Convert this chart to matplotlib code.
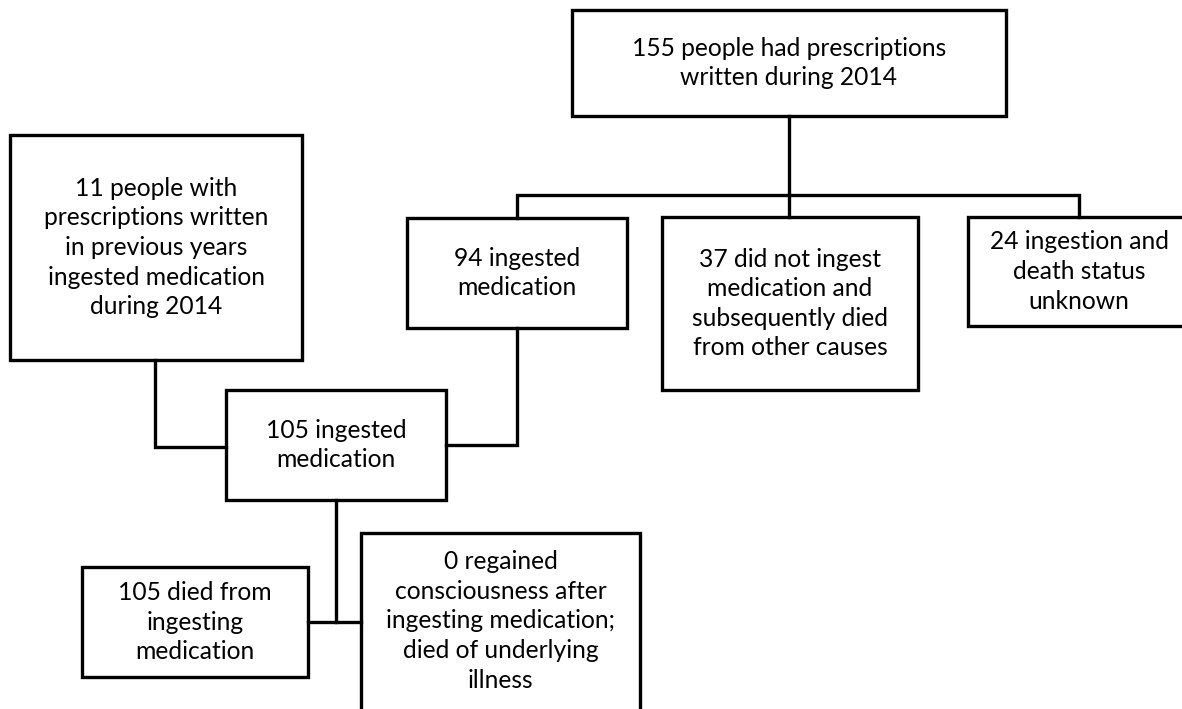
import matplotlib.pyplot as plt
from matplotlib.patches import Rectangle

# box texts
labels = [
    "155 people had prescriptions\nwritten during 2014",
    "11 people with\nprescriptions written\nin previous years\ningested medication\nduring 2014",
    "94 ingested\nmedication",
    "37 did not ingest\nmedication and\nsubsequently died\nfrom other causes",
    "24 ingestion and\ndeath status\nunknown",
    "105 ingested\nmedication",
    "105 died from\ningesting\nmedication",
    "0 regained\nconsciousness after\ningesting medication;\ndied of underlying\nillness",
]

# layout in pixels: (left, top, right, bottom)
boxes = [
    (572, 10, 1006, 116),
    (10, 135, 302, 360),
    (407, 218, 627, 328),
    (662, 217, 918, 390),
    (968, 217, 1190, 326),
    (226, 390, 446, 500),
    (82, 567, 308, 677),
    (361, 533, 640, 712),
]

# connector polylines
connectors = [
    [(789, 116), (789, 195)],
    [(517, 218), (517, 195), (1079, 195), (1079, 217)],
    [(789, 195), (789, 217)],
    [(155, 360), (155, 447), (226, 447)],
    [(517, 328), (517, 445), (446, 445)],
    [(336, 500), (336, 622)],
    [(308, 622), (361, 622)],
]

W, H = 1182, 709
fig = plt.figure(figsize=(W / 100, H / 100), dpi=100)
ax = fig.add_axes([0, 0, 1, 1])
ax.set_xlim(0, W)
ax.set_ylim(H, 0)
ax.axis("off")

lw = 2.4
for pts in connectors:
    xs = [p[0] for p in pts]
    ys = [p[1] for p in pts]
    ax.plot(xs, ys, color="black", lw=lw, solid_joinstyle="miter", solid_capstyle="projecting")

for (l, t, r, b), txt in zip(boxes, labels):
    ax.add_patch(Rectangle((l, t), r - l, b - t, facecolor="white", edgecolor="black",
                           lw=lw, joinstyle="miter"))
    cy = (t + b) / 2
    if txt.startswith("0 regained"):
        cy = 621
    ax.text((l + r) / 2, cy, txt, ha="center", va="center", fontsize=17.7,
            family="Lato", linespacing=1.35, color="black")

fig.savefig("out.png", dpi=100)
